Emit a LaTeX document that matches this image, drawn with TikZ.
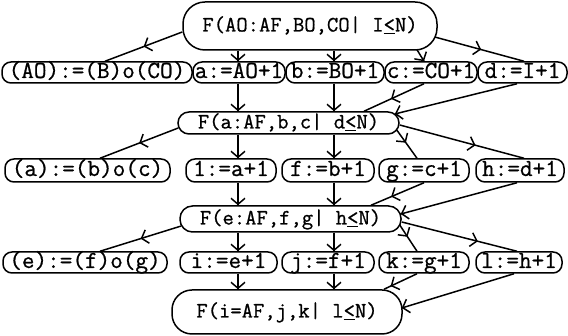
\documentclass[tikz,border=0pt]{standalone}
\usepackage{fontspec}
\newfontfamily\twfont{Latin Modern Mono}[FakeBold=0.8]
\usetikzlibrary{arrows.meta,decorations.markings}
\tikzset{
  fbox/.style={rectangle, draw, line width=1.5pt, inner sep=0pt,
    text height=16pt, text depth=5pt,
    font=\fontsize{22}{24}\selectfont\twfont},
  sbox/.style={rectangle, rounded corners=9pt, draw, line width=1.5pt, inner sep=0pt,
    minimum height=21pt, text height=16pt, text depth=5pt,
    font=\fontsize{24.5}{26}\selectfont\twfont},
  conn/.style={line width=1.5pt},
  arrat/.style={postaction={decorate, decoration={markings,
    mark=at position #1 with {\arrow{Straight Barb[length=6pt,width=14pt]}}}}},
}
\begin{document}
\begin{tikzpicture}[x=1pt,y=1pt]
\useasboundingbox (0,0) rectangle (568,336);
\coordinate (colA) at (238,0);
\coordinate (colB) at (334,0);
% top
\node[fbox, rounded corners=22pt, minimum width=254pt, minimum height=48pt] (F0) at (310,310) {F(AO:AF,BO,CO| I\underline{<}N)};
% row 1
\node[sbox, minimum width=190pt] (A1) at (97,263.5) {(AO):=(B)o(CO)};
\node[sbox, minimum width=92pt] (a) at (239,263.5) {a:=AO+1};
\node[sbox, minimum width=98pt] (b) at (335,263.5) {b:=BO+1};
\node[sbox, minimum width=92pt] (c) at (431,263.5) {c:=CO+1};
\node[sbox, minimum width=89pt] (d) at (522.5,263.5) {d:=I+1};
% F1
\node[fbox, rounded corners=11pt, minimum width=221pt, minimum height=22pt] (F1) at (288.5,213) {F(a:AF,b,c| d\underline{<}N)};
% row 2
\node[sbox, minimum width=165pt, minimum height=23pt] (A2) at (87.5,165.5) {(a):=(b)o(c)};
\node[sbox, minimum width=90pt, minimum height=23pt] (e) at (231,165.5) {1:=a+1};
\node[sbox, minimum width=92pt, minimum height=23pt] (f) at (328,165.5) {f:=b+1};
\node[sbox, minimum width=90pt, minimum height=23pt] (g) at (424,165.5) {g:=c+1};
\node[sbox, minimum width=88pt, minimum height=23pt] (h) at (520,165.5) {h:=d+1};
% F2
\node[fbox, rounded corners=12.5pt, minimum width=221pt, minimum height=26pt] (F2) at (290.5,117) {F(e:AF,f,g| h\underline{<}N)};
% row 3
\node[sbox, minimum width=164pt] (A3) at (85,73.5) {(e):=(f)o(g)};
\node[sbox, minimum width=97pt] (i) at (228.5,73.5) {i:=e+1};
\node[sbox, minimum width=92pt] (j) at (328,73.5) {j:=f+1};
\node[sbox, minimum width=90pt] (k) at (424,73.5) {k:=g+1};
\node[sbox, minimum width=86pt] (l) at (519,73.5) {l:=h+1};
% F3
\node[fbox, rounded corners=20pt, minimum width=230pt, minimum height=44pt] (F3) at (287,24) {F(i=AF,j,k| l\underline{<}N)};

% F0 -> row 1
\draw[conn,arrat=0.5] ([yshift=-6pt]F0.west) -- ([xshift=8pt]A1.north);
\draw[conn,arrat=1] (F0.south -| colA) -- (a.north -| colA);
\draw[conn,arrat=1] (F0.south -| colB) -- (b.north -| colB);
\draw[conn,arrat=1] ([xshift=107pt,yshift=1pt]F0.south) -- ([xshift=-7pt]c.north);
\draw[conn,arrat=0.52] ([xshift=-3pt,yshift=-11pt]F0.east) -- ([xshift=1.5pt]d.north);
% row 1 -> F1
\draw[conn,arrat=1] (a.south -| colA) -- (F1.north -| colA);
\draw[conn,arrat=1] (b.south -| colB) -- (F1.north -| colB);
\draw[conn,arrat=0.55] ([xshift=-7pt]c.south) -- ([xshift=75.5pt]F1.north);
\draw[conn,arrat=1] ([xshift=-5.5pt]d.south) -- ([xshift=-5pt,yshift=9pt]F1.east);
% F1 -> row 2
\draw[conn,arrat=0.5] ([xshift=1pt,yshift=-5pt]F1.west) -- ([xshift=12.5pt]A2.north);
\draw[conn,arrat=1] (F1.south -| colA) -- (e.north -| colA);
\draw[conn,arrat=1] (F1.south -| colB) -- (f.north -| colB);
\draw[conn,arrat=0.45] ([xshift=-3pt,yshift=-7pt]F1.east) -- ([xshift=-7pt]g.north);
\draw[conn,arrat=0.61] ([yshift=-2pt]F1.east) -- ([xshift=4pt]h.north);
% row 2 -> F2
\draw[conn,arrat=1] (e.south -| colA) -- (F2.north -| colA);
\draw[conn,arrat=1] (f.south -| colB) -- (F2.north -| colB);
\draw[conn,arrat=0.62] (g.south) -- ([xshift=80.5pt]F2.north);
\draw[conn,arrat=1] ([xshift=-3pt]h.south) -- ([xshift=-1pt,yshift=5pt]F2.east);
% F2 -> row 3
\draw[conn,arrat=0.5] ([xshift=2pt,yshift=-7pt]F2.west) -- ([xshift=15pt]A3.north);
\draw[conn,arrat=1] (F2.south -| colA) -- (i.north -| colA);
\draw[conn,arrat=1] (F2.south -| colB) -- (j.north -| colB);
\draw[conn,arrat=0.45] ([xshift=-2pt,yshift=-6pt]F2.east) -- ([xshift=-7pt]k.north);
\draw[conn,arrat=0.66] ([yshift=-3pt]F2.east) -- ([xshift=-2pt]l.north);
% row 3 -> F3
\draw[conn,arrat=1] (i.south -| colA) -- (F3.north -| colA);
\draw[conn,arrat=1] (j.south -| colB) -- (F3.north -| colB);
\draw[conn,arrat=0.8] ([xshift=-7pt]k.south) -- ([xshift=97pt]F3.north);
\draw[conn,arrat=1] ([xshift=-5pt]l.south) -- ([xshift=-1pt,yshift=4pt]F3.east);
\end{tikzpicture}
\end{document}
